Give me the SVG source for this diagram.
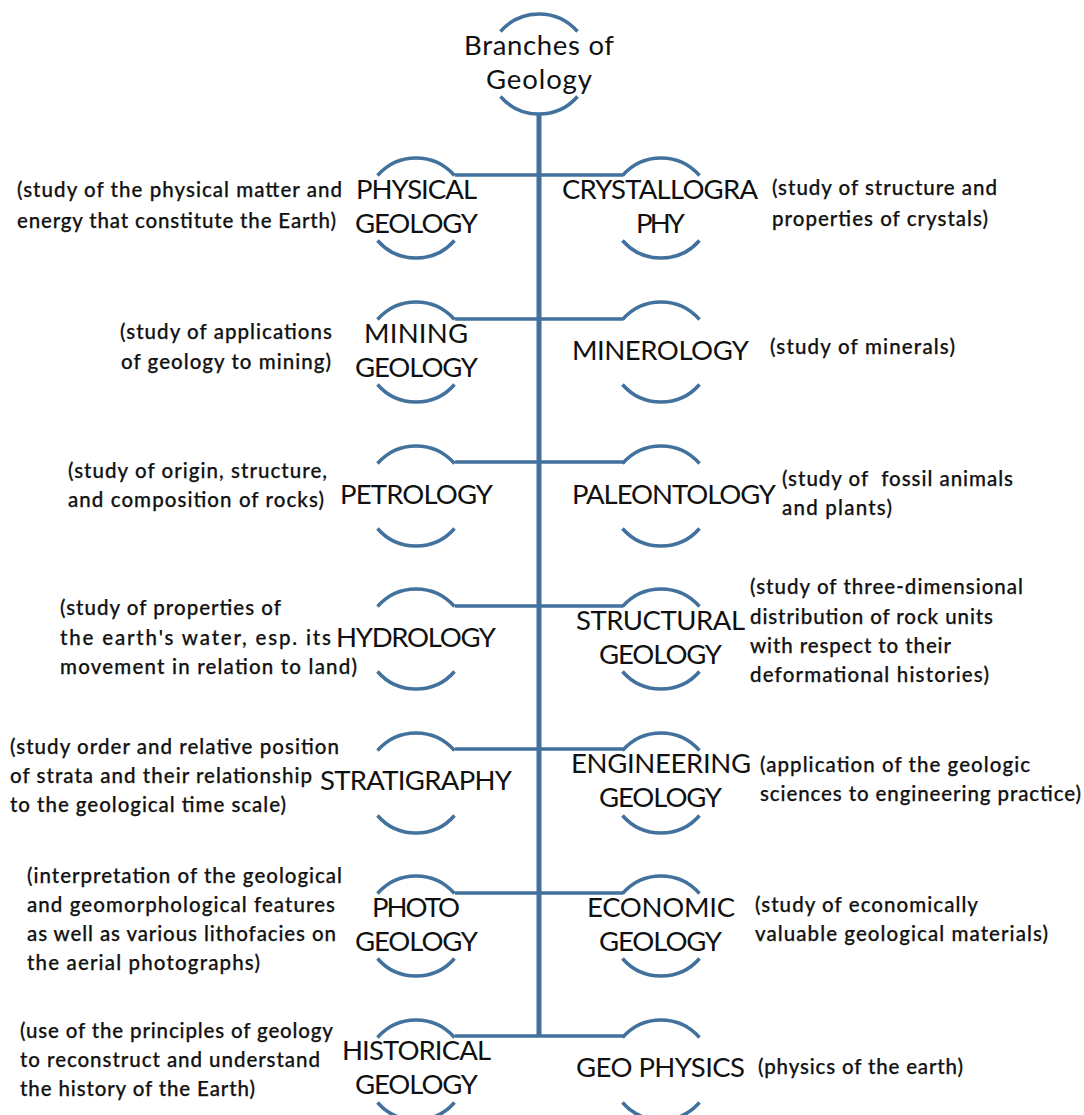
<svg xmlns="http://www.w3.org/2000/svg" width="1084" height="1115" viewBox="0 0 1084 1115">
<style>
.arc{fill:none;stroke:#41719c;stroke-width:3.5;stroke-linecap:butt}
.trunk{fill:none;stroke:#41719c;stroke-width:5}
.branch{fill:none;stroke:#41719c;stroke-width:3.5}
text{fill:#111;font-family:"Lato","Liberation Sans",sans-serif}
.n{font-size:27.5px}
.d{font-size:20.5px;font-weight:500;stroke:#111;stroke-width:.25}
</style>
<defs>
<g id="ring"><path class="arc" d="M-38.500 -32.500A51 51 0 0 1 38.500 -32.500"/><path class="arc" d="M-38.500 32.500A51 51 0 0 0 38.500 32.500"/></g>
</defs>
<rect width="1084" height="1115" fill="#fff"/>
<g id="connectors">
<path class="trunk" d="M539 115V1037"/>
<path class="branch" d="M455 175H623M455 319H623M455 462H623M455 606H623M455 749H623M455 893H623M455 1036H623"/>
</g>
<g id="root"><use href="#ring" x="539" y="64"/><text class="n" x="464" y="55" textLength="150" lengthAdjust="spacing">Branches of</text><text class="n" x="486" y="89" textLength="106" lengthAdjust="spacing">Geology</text></g>
<g id="physical"><use href="#ring" x="416" y="208"/><text class="n" x="356" y="199" textLength="121" lengthAdjust="spacing">PHYSICAL</text><text class="n" x="355" y="233" textLength="123" lengthAdjust="spacing">GEOLOGY</text>
<text class="d" x="17" y="197" textLength="325" lengthAdjust="spacing">(study of the physical matter and</text><text class="d" x="17" y="228" textLength="319" lengthAdjust="spacing">energy that constitute the Earth)</text></g>
<g id="crystallography"><use href="#ring" x="661" y="208"/><text class="n" x="562" y="199" textLength="196" lengthAdjust="spacing">CRYSTALLOGRA</text><text class="n" x="636" y="233" textLength="49" lengthAdjust="spacing">PHY</text>
<text class="d" x="772" y="195" textLength="225" lengthAdjust="spacing">(study of structure and</text><text class="d" x="772" y="226" textLength="216" lengthAdjust="spacing">properties of crystals)</text></g>
<g id="mining"><use href="#ring" x="416" y="352"/><text class="n" x="364" y="343" textLength="104" lengthAdjust="spacing">MINING</text><text class="n" x="355" y="377" textLength="123" lengthAdjust="spacing">GEOLOGY</text>
<text class="d" x="120" y="339" textLength="212" lengthAdjust="spacing">(study of applications</text><text class="d" x="121" y="369" textLength="210" lengthAdjust="spacing">of geology to mining)</text></g>
<g id="minerology"><use href="#ring" x="661" y="352"/><text class="n" x="572" y="360" textLength="177" lengthAdjust="spacing">MINEROLOGY</text>
<text class="d" x="770" y="354" textLength="185" lengthAdjust="spacing">(study of minerals)</text></g>
<g id="petrology"><use href="#ring" x="416" y="496"/><text class="n" x="340" y="504" textLength="153" lengthAdjust="spacing">PETROLOGY</text>
<text class="d" x="68" y="478" textLength="259" lengthAdjust="spacing">(study of origin, structure,</text><text class="d" x="68" y="507" textLength="256" lengthAdjust="spacing">and composition of rocks)</text></g>
<g id="paleontology"><use href="#ring" x="661" y="496"/><text class="n" x="572" y="504" textLength="204" lengthAdjust="spacing">PALEONTOLOGY</text>
<text class="d" x="782" y="486" textLength="231" lengthAdjust="spacing" xml:space="preserve">(study of  fossil animals</text><text class="d" x="782" y="515" textLength="110" lengthAdjust="spacing">and plants)</text></g>
<g id="hydrology"><use href="#ring" x="416" y="639"/><text class="n" x="336" y="647" textLength="160" lengthAdjust="spacing">HYDROLOGY</text>
<text class="d" x="60" y="615" textLength="221" lengthAdjust="spacing">(study of properties of</text><text class="d" x="60" y="645" textLength="271" lengthAdjust="spacing">the earth's water, esp. its</text><text class="d" x="60" y="674" textLength="297" lengthAdjust="spacing">movement in relation to land)</text></g>
<g id="structural"><use href="#ring" x="661" y="639"/><text class="n" x="576" y="630" textLength="169" lengthAdjust="spacing">STRUCTURAL</text><text class="n" x="599" y="664" textLength="123" lengthAdjust="spacing">GEOLOGY</text>
<text class="d" x="750" y="594" textLength="273" lengthAdjust="spacing">(study of three-dimensional</text><text class="d" x="750" y="624" textLength="243" lengthAdjust="spacing">distribution of rock units</text><text class="d" x="750" y="653" textLength="201" lengthAdjust="spacing">with respect to their</text><text class="d" x="750" y="682" textLength="239" lengthAdjust="spacing">deformational histories)</text></g>
<g id="stratigraphy"><use href="#ring" x="416" y="783"/><text class="n" x="320" y="790" textLength="192" lengthAdjust="spacing">STRATIGRAPHY</text>
<text class="d" x="10" y="754" textLength="329" lengthAdjust="spacing">(study order and relative position</text><text class="d" x="10" y="783" textLength="302" lengthAdjust="spacing">of strata and their relationship</text><text class="d" x="10" y="812" textLength="276" lengthAdjust="spacing">to the geological time scale)</text></g>
<g id="engineering"><use href="#ring" x="661" y="783"/><text class="n" x="571" y="773" textLength="180" lengthAdjust="spacing">ENGINEERING</text><text class="n" x="599" y="807" textLength="123" lengthAdjust="spacing">GEOLOGY</text>
<text class="d" x="760" y="772" textLength="270" lengthAdjust="spacing">(application of the geologic</text><text class="d" x="760" y="801" textLength="321" lengthAdjust="spacing">sciences to engineering practice)</text></g>
<g id="photo"><use href="#ring" x="416" y="926"/><text class="n" x="372" y="917" textLength="88" lengthAdjust="spacing">PHOTO</text><text class="n" x="355" y="951" textLength="123" lengthAdjust="spacing">GEOLOGY</text>
<text class="d" x="27" y="883" textLength="315" lengthAdjust="spacing">(interpretation of the geological</text><text class="d" x="27" y="912" textLength="308" lengthAdjust="spacing">and geomorphological features</text><text class="d" x="27" y="941" textLength="309" lengthAdjust="spacing">as well as various lithofacies on</text><text class="d" x="27" y="970" textLength="233" lengthAdjust="spacing">the aerial photographs)</text></g>
<g id="economic"><use href="#ring" x="661" y="926"/><text class="n" x="587" y="917" textLength="148" lengthAdjust="spacing">ECONOMIC</text><text class="n" x="599" y="951" textLength="123" lengthAdjust="spacing">GEOLOGY</text>
<text class="d" x="755" y="912" textLength="223" lengthAdjust="spacing">(study of economically</text><text class="d" x="755" y="941" textLength="293" lengthAdjust="spacing">valuable geological materials)</text></g>
<g id="historical"><use href="#ring" x="416" y="1070"/><text class="n" x="342" y="1060" textLength="149" lengthAdjust="spacing">HISTORICAL</text><text class="n" x="355" y="1094" textLength="123" lengthAdjust="spacing">GEOLOGY</text>
<text class="d" x="20" y="1038" textLength="313" lengthAdjust="spacing">(use of the principles of geology</text><text class="d" x="20" y="1067" textLength="300" lengthAdjust="spacing">to reconstruct and understand</text><text class="d" x="20" y="1096" textLength="235" lengthAdjust="spacing">the history of the Earth)</text></g>
<g id="geophysics"><use href="#ring" x="661" y="1070"/><text class="n" x="576" y="1077" textLength="169" lengthAdjust="spacing">GEO PHYSICS</text>
<text class="d" x="758" y="1074" textLength="205" lengthAdjust="spacing">(physics of the earth)</text></g>
</svg>
